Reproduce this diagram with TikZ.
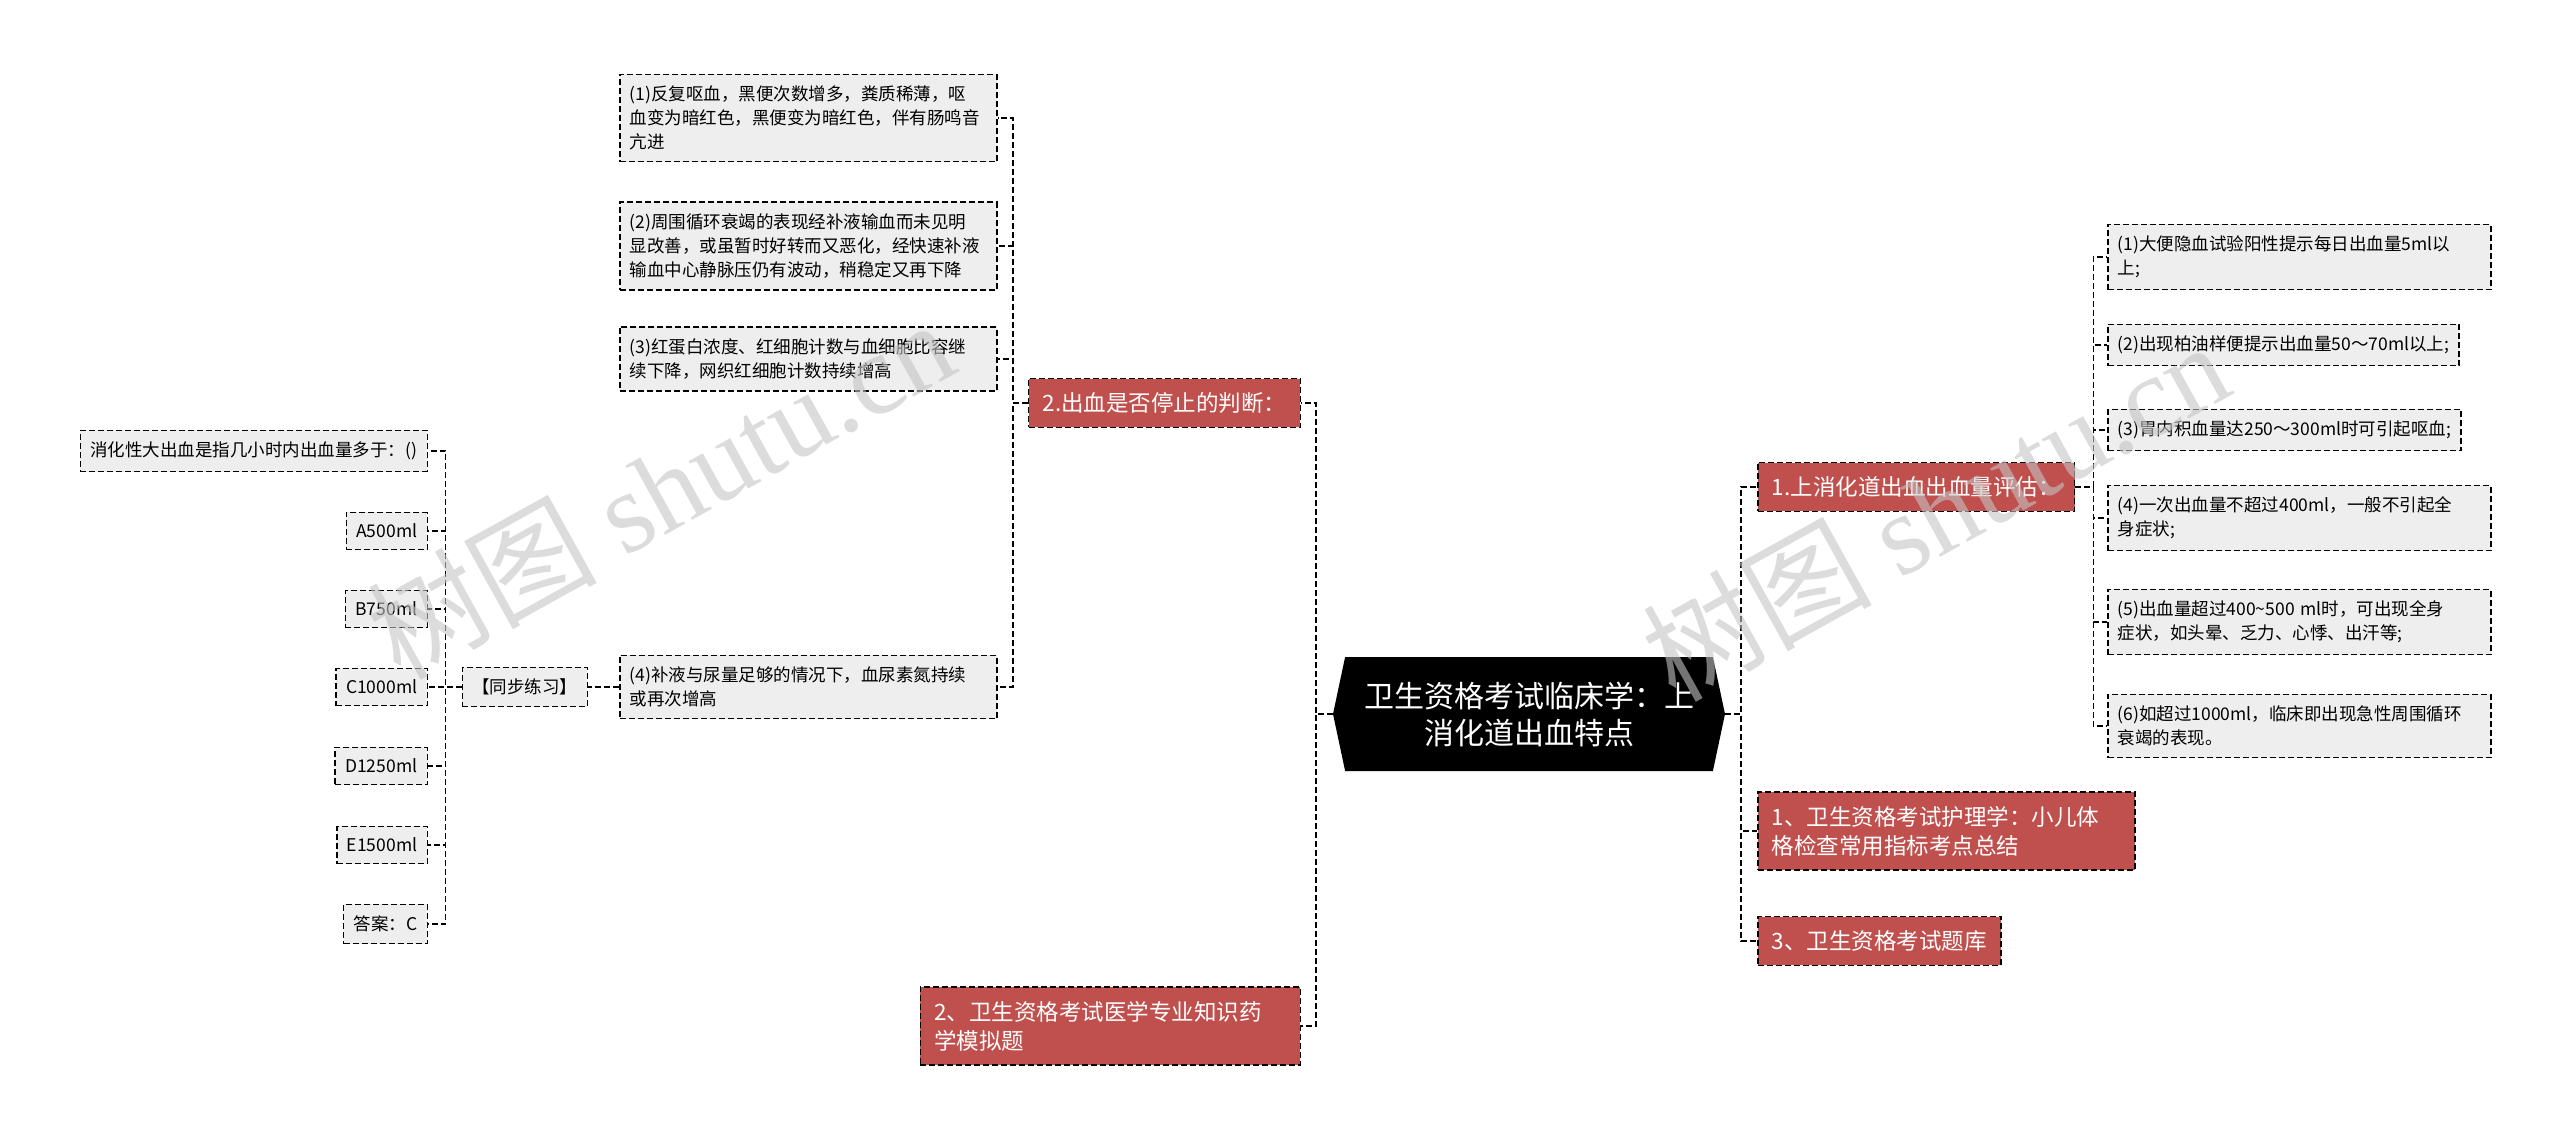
\documentclass[tikz,border=0pt]{standalone}
\usepackage{fontspec}
\setmainfont{Noto Sans CJK SC}
\newfontfamily\wmserif{Liberation Serif}
\usepackage{tikz}
\usetikzlibrary{shapes.symbols}
\definecolor{xuehong}{HTML}{C0504D}
\definecolor{huibai}{HTML}{EEEEEE}
\definecolor{danhui}{HTML}{C4C4C4}

\tikzset{
    box/.style={draw=black, line width=1.5pt, dash pattern=on 6pt off 3pt, align=left},
    leaf/.style={box, fill=huibai, font=\fontsize{17.5}{24}\selectfont, inner xsep=10pt, inner ysep=11.5pt},
    topic/.style={box, fill=xuehong, text=white, font=\fontsize{22.5}{29}\selectfont, inner xsep=14pt, inner ysep=14pt},
    link/.style={line width=1.5pt, dash pattern=on 6pt off 3pt},
    shuiyin/.style={text=danhui, opacity=0.6, font=\fontsize{115}{115}\selectfont, inner sep=0pt},
}

\begin{document}
\begin{tikzpicture}[x=1pt, y=-1pt]
    \useasboundingbox (0, 0) rectangle (2560, 1145);

    % middle
    \node[signal, signal to=west and east, signal pointer angle=156, fill=black, text=white,
          align=center, font=\fontsize{30}{37}\selectfont, minimum width=392pt, minimum height=114pt]
          (root) at (1529, 714) {卫生资格考试临床学：上\\消化道出血特点};

    % left
    \node[topic, anchor=east] (stop) at (1301, 403) {2.出血是否停止的判断：};
    \node[topic, anchor=east, text width=352pt] (yaoxue) at (1301, 1026) {2、卫生资格考试医学专业知识药\\学模拟题};

    \node[leaf, anchor=west, text width=357pt] (s1) at (619, 118) {(1)反复呕血，黑便次数增多，粪质稀薄，呕\\血变为暗红色，黑便变为暗红色，伴有肠鸣音\\亢进};
    \node[leaf, anchor=west, text width=357pt] (s2) at (619, 246) {(2)周围循环衰竭的表现经补液输血而未见明\\显改善，或虽暂时好转而又恶化，经快速补液\\输血中心静脉压仍有波动，稍稳定又再下降};
    \node[leaf, anchor=west, text width=357pt] (s3) at (619, 359) {(3)红蛋白浓度、红细胞计数与血细胞比容继\\续下降，网织红细胞计数持续增高};
    \node[leaf, anchor=west, text width=357pt] (s4) at (619, 687) {(4)补液与尿量足够的情况下，血尿素氮持续\\或再次增高};

    \node[leaf, anchor=east] (sync) at (588, 687) {【同步练习】};

    \foreach \n / \t / \y in {q/消化性大出血是指几小时内出血量多于：()/451, oa/A500ml/531, ob/B750ml/609,
                              oc/C1000ml/687, od/D1250ml/766, oe/E1500ml/845, ans/答案：C/924}
        \node[leaf, anchor=east] (\n) at (428, \y) {\t};

    \foreach \n in {stop, yaoxue}
        \draw[link] (root.west) -- ++(-17, 0) |- (\n.east);
    \foreach \n in {s1, s2, s3, s4}
        \draw[link] (stop.west) -- ++(-15, 0) |- (\n.east);
    \draw[link] (s4.west) -- (sync.east);
    \foreach \n in {q, oa, ob, oc, od, oe, ans}
        \draw[link] (sync.west) -- ++(-16, 0) |- (\n.east);

    % right
    \node[topic, anchor=west] (amount) at (1757, 487) {1.上消化道出血出血量评估：};
    \node[topic, anchor=west, text width=349pt] (huli) at (1757, 831) {1、卫生资格考试护理学：小儿体\\格检查常用指标考点总结};
    \node[topic, anchor=west] (tiku) at (1757, 941) {3、卫生资格考试题库};

    \node[leaf, anchor=west, text width=363pt] (r1) at (2107, 257) {(1)大便隐血试验阳性提示每日出血量5ml以\\上;};
    \node[leaf, anchor=west] (r2) at (2107, 345) {(2)出现柏油样便提示出血量50～70ml以上;};
    \node[leaf, anchor=west] (r3) at (2107, 430) {(3)胃内积血量达250～300ml时可引起呕血;};
    \node[leaf, anchor=west, text width=363pt] (r4) at (2107, 518) {(4)一次出血量不超过400ml，一般不引起全\\身症状;};
    \node[leaf, anchor=west, text width=363pt] (r5) at (2107, 622) {(5)出血量超过400\textasciitilde 500 ml时，可出现全身\\症状，如头晕、乏力、心悸、出汗等;};
    \node[leaf, anchor=west, text width=363pt] (r6) at (2107, 726) {(6)如超过1000ml，临床即出现急性周围循环\\衰竭的表现。};

    \foreach \n in {amount, huli, tiku}
        \draw[link] (root.east) -- ++(16, 0) |- (\n.west);
    \foreach \n in {r1, r2, r3, r4, r5, r6}
        \draw[link] (amount.east) -- ++(18, 0) |- (\n.west);

    % watermark
    \node[shuiyin, rotate=29] (wm1) at (660, 488) {树图 {\wmserif shutu.cn}};
    \node[shuiyin, rotate=29] (wm2) at (1935, 510) {树图 {\wmserif shutu.cn}};
\end{tikzpicture}
\end{document}
